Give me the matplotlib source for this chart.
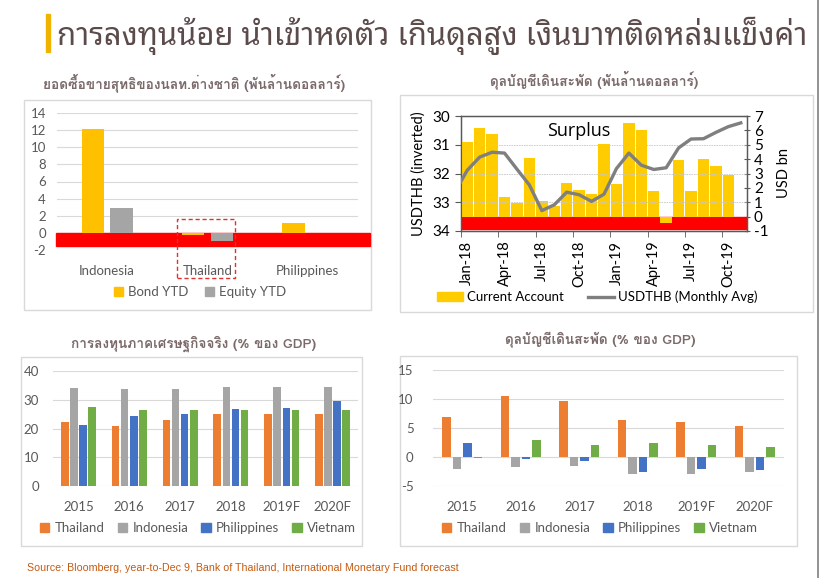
import matplotlib
matplotlib.use("Agg")
import matplotlib.pyplot as plt
import matplotlib.patches as mpatches
from matplotlib.lines import Line2D
import numpy as np

# ---------------- data ----------------
flow_countries = ["Indonesia", "Thailand", "Philippines"]
bond_ytd = [12.1, -0.3, 1.1]
equity_ytd = [2.95, -0.9, 0.0]

months = ["Jan-18", "Feb-18", "Mar-18", "Apr-18", "May-18", "Jun-18", "Jul-18", "Aug-18",
          "Sep-18", "Oct-18", "Nov-18", "Dec-18", "Jan-19", "Feb-19", "Mar-19", "Apr-19",
          "May-19", "Jun-19", "Jul-19", "Aug-19", "Sep-19", "Oct-19", "Nov-19"]
current_account = [5.2, 6.15, 5.76, 1.35, 0.96, 4.05, 1.07, 0.75, 2.35, 1.85, 1.58, 5.03,
                   2.29, 6.51, 6.06, 1.76, -0.43, 3.91, 1.76, 4.0, 3.52, 2.88, np.nan]
# monthly average, starts Dec-17
usdthb = [32.65, 31.89, 31.43, 31.26, 31.29, 31.85, 32.4, 33.29, 33.09, 32.65, 32.74, 32.97,
          32.72, 31.83, 31.29, 31.71, 31.86, 31.80, 31.11, 30.8, 30.79, 30.57, 30.37, 30.24]

years = ["2015", "2016", "2017", "2018", "2019F", "2020F"]
asean = ["Thailand", "Indonesia", "Philippines", "Vietnam"]
inv_thailand = [22.3, 20.8, 22.9, 24.9, 24.9, 25.2]
inv_indonesia = [34.1, 33.9, 33.6, 34.5, 34.5, 34.5]
inv_philippines = [21.2, 24.3, 25.1, 26.9, 27.3, 29.6]
inv_vietnam = [27.6, 26.5, 26.5, 26.5, 26.4, 26.4]

ca_thailand = [6.9, 10.5, 9.7, 6.4, 6.1, 5.4]
ca_indonesia = [-2.0, -1.8, -1.6, -3.0, -2.9, -2.6]
ca_philippines = [2.5, -0.4, -0.7, -2.6, -2.0, -2.3]
ca_vietnam = [-0.1, 2.9, 2.1, 2.5, 2.1, 1.8]

# ---------------- style ----------------
W, H = 822, 578
THAI = ["Loma", "DejaVu Sans"]
LAT = ["Lato", "DejaVu Sans"]
TXT = "#595959"
SUB = "#7b6a6a"
GRID = "#d9d9d9"
asean_colors = ["#ED7D31", "#A5A5A5", "#4472C4", "#70AD47"]

plt.rcParams["font.family"] = LAT
plt.rcParams["axes.unicode_minus"] = False

fig = plt.figure(figsize=(W / 100, H / 100), dpi=100)
fig.patch.set_facecolor("white")


def px_axes(l, t, r, b):
    return fig.add_axes([l / W, 1 - b / H, (r - l) / W, (b - t) / H])


def px_box(l, t, r, b):
    fig.add_artist(mpatches.Rectangle((l / W, 1 - b / H), (r - l) / W, (b - t) / H,
                                      transform=fig.transFigure, fill=False,
                                      edgecolor=GRID, linewidth=1.0, zorder=0))


def clean(ax):
    for s in ax.spines.values():
        s.set_visible(False)
    ax.tick_params(length=0, labelsize=9, colors=TXT)
    ax.grid(axis="y", color=GRID, linewidth=0.8)
    ax.set_axisbelow(True)


# ---------------- header ----------------
fig.add_artist(mpatches.Rectangle((46 / W, 1 - 52 / H), 4 / W, 38 / H,
                                  transform=fig.transFigure, color="#F0B400"))
fig.text(57 / W, 1 - 36 / H, "การลงทุนน้อย นำเข้าหดตัว เกินดุลสูง เงินบาทติดหล่มแข็งค่า",
         family=["Noto Sans Thai Looped", "DejaVu Sans"], fontsize=22.3, color="#5b4b4b",
         va="center", ha="left")
fig.add_artist(Line2D([818 / W, 818 / W], [0, 1], transform=fig.transFigure,
                      color="#7f7f7f", linewidth=1.2))

# chart boxes
px_box(24, 100, 371, 310)
px_box(400, 95, 813, 312)
px_box(21, 357, 362, 546)
px_box(400, 356, 797, 546)

# ---------------- top left: foreign flows ----------------
fig.text(194 / W, 1 - 83 / H, "ยอดซื้อขายสุทธิของนลท.ต่างชาติ (พันล้านดอลลาร์)",
         family=THAI, fontsize=9.8, fontweight="bold", color=SUB, ha="center", va="center")
ax1 = px_axes(57, 113, 358, 250)
x = np.arange(len(flow_countries))
ax1.bar(x - 0.142, bond_ytd, 0.222, color="#FFC000", zorder=3, label="Bond YTD")
ax1.bar(x + 0.142, equity_ytd, 0.222, color="#A5A5A5", zorder=3, label="Equity YTD")
ax1.set_xlim(-0.5, 2.5)
ax1.set_ylim(-2, 14)
ax1.set_yticks(range(-2, 15, 2))
ax1.set_xticks(x)
ax1.set_xticklabels(flow_countries)
clean(ax1)
ax1.tick_params(axis="x", pad=11, labelsize=9.5)
ax1.tick_params(axis="y", pad=8, labelsize=9.5)
ax1.add_patch(mpatches.Rectangle((-0.003, -1.52), 1.043, 1.52,
                                 transform=ax1.get_yaxis_transform(), color="#FF0000",
                                 zorder=2, clip_on=False))
ax1.add_patch(mpatches.Rectangle((0.696, -5.26), 0.578, 6.9, fill=False,
                                 edgecolor="#E03030", linestyle=(0, (3, 2)),
                                 linewidth=1.0, zorder=4, clip_on=False))
h1 = [mpatches.Patch(color="#FFC000"), mpatches.Patch(color="#A5A5A5")]
fig.legend(h1, ["Bond YTD", "Equity YTD"], loc="center", bbox_to_anchor=(200 / W, 1 - 292 / H),
           ncol=2, frameon=False, fontsize=9.5, handlelength=0.7, handleheight=0.7,
           columnspacing=1.2, handletextpad=0.4, labelcolor=TXT)

# ---------------- top right: current account vs USDTHB ----------------
fig.text(594 / W, 1 - 80 / H, "ดุลบัญชีเดินสะพัด (พันล้านดอลลาร์)",
         family=THAI, fontsize=9.8, fontweight="bold", color=SUB, ha="center", va="center")
ax2 = px_axes(461, 116, 747, 231)
ax2b = ax2.twinx()
m = np.arange(len(months))
ax2.bar(m, current_account, 0.92, color="#FFCC00", zorder=3)
ax2.add_patch(mpatches.Rectangle((0, -0.85), 1, 0.85, transform=ax2.get_yaxis_transform(),
                                 color="#FF0000", zorder=2))
ax2.set_xlim(-0.5, len(months) - 0.5)
ax2.set_ylim(-1, 7)
ax2.set_yticks(range(-1, 8))
ax2.yaxis.tick_right()
ax2.yaxis.set_label_position("right")
ax2.set_ylabel("USD bn", fontsize=10.5, color="black", labelpad=6)
ax2.set_xticks(m[::3])
ax2.set_xticklabels(months[::3], rotation=90, fontsize=10.5, color="black")
ax2.set_xticks(np.arange(-0.5, len(months), 3), minor=True)
ax2.tick_params(axis="x", which="major", length=0, pad=7)
ax2.tick_params(axis="x", which="minor", length=4, direction="out", color="#595959")
ax2.tick_params(axis="y", labelsize=11, colors="black", length=4, direction="inout",
                color="#595959", pad=3)
for s in ax2.spines.values():
    s.set_color("#595959")
    s.set_linewidth(1.0)

ax2b.plot(np.arange(-1, len(months)), usdthb, color="#7F7F7F", linewidth=2.4, zorder=5,
          solid_joinstyle="round")
ax2b.set_xlim(-0.5, len(months) - 0.5)
ax2b.set_ylim(34, 30)
ax2b.set_yticks([30, 31, 32, 33, 34])
ax2b.yaxis.tick_left()
ax2b.yaxis.set_label_position("left")
ax2b.set_ylabel("USDTHB (inverted)", fontsize=10.5, color="black", labelpad=5)
ax2b.tick_params(axis="y", labelsize=11, colors="black", length=4, direction="out",
                 color="#595959")
ax2b.grid(axis="y", color="#c8c8c8", linewidth=0.6, linestyle=(0, (2, 1)))
for s in ax2b.spines.values():
    s.set_color("#595959")
ax2.text(0.41, 0.87, "Surplus", transform=ax2.transAxes, fontsize=13, color="black",
         ha="center", va="center", zorder=6,
         family=["Open Sans", "DejaVu Sans"])
h2 = [mpatches.Patch(color="#FFCC00"), Line2D([], [], color="#7F7F7F", linewidth=2.4)]
fig.legend(h2, ["Current Account", "USDTHB (Monthly Avg)"], loc="center",
           bbox_to_anchor=(597 / W, 1 - 297 / H), ncol=2, frameon=False, fontsize=9.5,
           handlelength=2.0, handleheight=0.7, columnspacing=1.8, handletextpad=0.3)

# ---------------- bottom left: investment ----------------
fig.text(194 / W, 1 - 344 / H, "การลงทุนภาคเศรษฐกิจจริง (% ของ GDP)",
         family=THAI, fontsize=9.8, fontweight="bold", color=SUB, ha="center", va="center")
ax3 = px_axes(53, 371, 358, 486)
y = np.arange(len(years))
inv = [inv_thailand, inv_indonesia, inv_philippines, inv_vietnam]
for i, vals in enumerate(inv):
    ax3.bar(y + (i - 1.5) * 0.18, vals, 0.15, color=asean_colors[i], zorder=3)
ax3.set_xlim(-0.5, len(years) - 0.5)
ax3.set_ylim(0, 40)
ax3.set_yticks(range(0, 41, 10))
ax3.set_xticks(y)
ax3.set_xticklabels(years)
clean(ax3)
ax3.tick_params(axis="x", pad=11, labelsize=9.5)
ax3.tick_params(axis="y", pad=10, labelsize=9.5)
h3 = [mpatches.Patch(color=c) for c in asean_colors]
fig.legend(h3, asean, loc="center", bbox_to_anchor=(198 / W, 1 - 528 / H), ncol=4,
           frameon=False, fontsize=9.5, handlelength=0.7, handleheight=0.7,
           columnspacing=1.0, handletextpad=0.4, labelcolor=TXT)

# ---------------- bottom right: CA % GDP ----------------
fig.text(600 / W, 1 - 340 / H, "ดุลบัญชีเดินสะพัด (% ของ GDP)",
         family=THAI, fontsize=9.8, fontweight="bold", color=SUB, ha="center", va="center")
ax4 = px_axes(433, 370, 784, 486)
ca = [ca_thailand, ca_indonesia, ca_philippines, ca_vietnam]
for i, vals in enumerate(ca):
    ax4.bar(y + (i - 1.5) * 0.18, vals, 0.14, color=asean_colors[i], zorder=3)
ax4.set_xlim(-0.5, len(years) - 0.5)
ax4.set_ylim(-5, 15)
ax4.set_yticks(range(-5, 16, 5))
ax4.set_xticks(y)
ax4.set_xticklabels(years)
clean(ax4)
ax4.tick_params(axis="x", pad=11, labelsize=9.5)
ax4.tick_params(axis="y", pad=14, labelsize=9.5)
fig.legend(h3, asean, loc="center", bbox_to_anchor=(600 / W, 1 - 528 / H), ncol=4,
           frameon=False, fontsize=9.5, handlelength=0.7, handleheight=0.7,
           columnspacing=1.0, handletextpad=0.4, labelcolor=TXT)

# ---------------- source ----------------
fig.text(27 / W, 1 - 568 / H,
         "Source: Bloomberg, year-to-Dec 9, Bank of Thailand, International Monetary Fund forecast",
         family=["Liberation Sans", "DejaVu Sans"], fontsize=7.65, color="#c55a11",
         ha="left", va="center")

fig.savefig("out.png", dpi=100)
